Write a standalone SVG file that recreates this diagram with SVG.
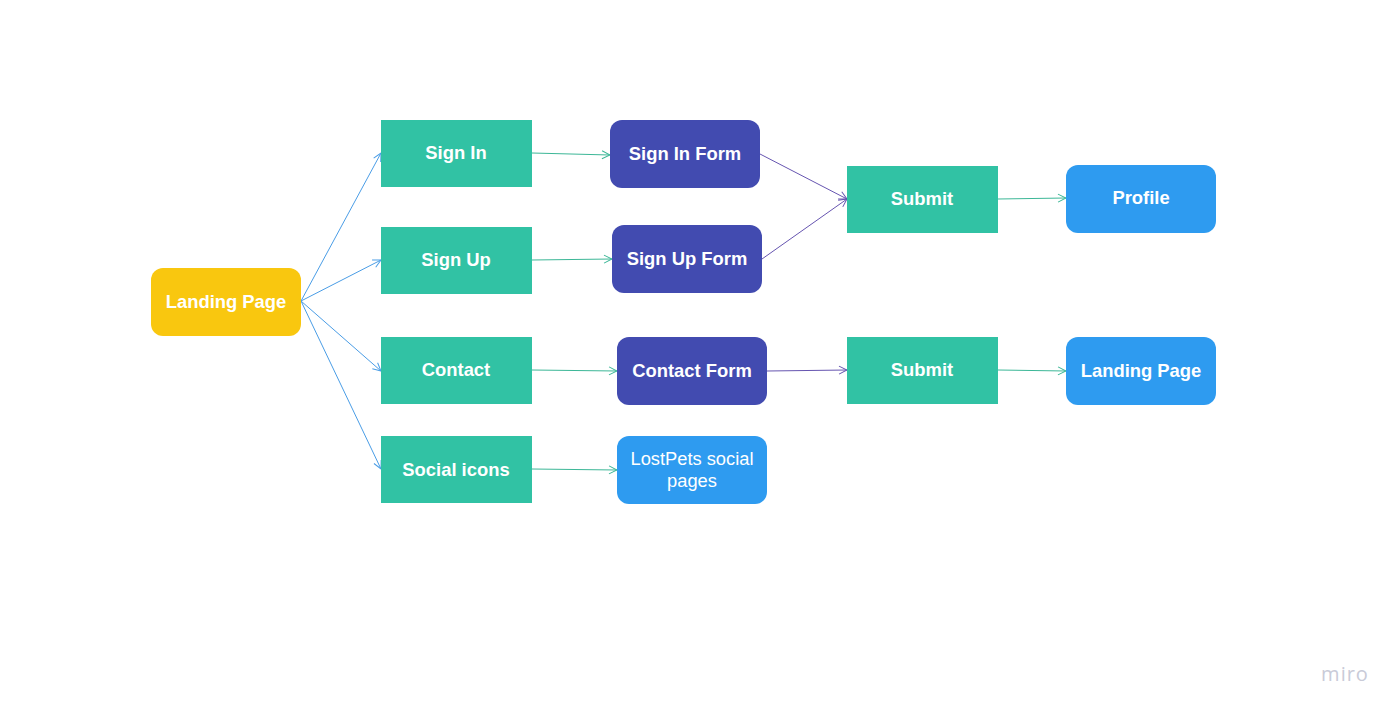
<svg xmlns="http://www.w3.org/2000/svg" width="1400" height="714" viewBox="0 0 1400 714">
<defs>
<style>
.t{font-family:"Liberation Sans",Arial,sans-serif;font-size:18.4px;font-weight:bold;fill:#fff;text-anchor:middle;dominant-baseline:central}
.n{font-family:"Liberation Sans",Arial,sans-serif;font-size:18.3px;fill:#fff;text-anchor:middle}
.teal{fill:#31c2a4}
.ind{fill:#424bb0}
.blue{fill:#2e9bf0}
.yel{fill:#f9c70f}
.c{fill:none;stroke-width:1}
.cb{stroke:#4a9de6;marker-end:url(#ab)}
.ct{stroke:#3cb797;marker-end:url(#at)}
.cp{stroke:#6655b0;marker-end:url(#ap)}
</style>
<marker id="ab" markerWidth="10" markerHeight="10" refX="9" refY="5" orient="auto" markerUnits="userSpaceOnUse"><path d="M1,1 L9,5 L1,9" fill="none" stroke="#4a9de6" stroke-width="1"/></marker>
<marker id="at" markerWidth="10" markerHeight="10" refX="9" refY="5" orient="auto" markerUnits="userSpaceOnUse"><path d="M1,1 L9,5 L1,9" fill="none" stroke="#3cb797" stroke-width="1"/></marker>
<marker id="ap" markerWidth="10" markerHeight="10" refX="9" refY="5" orient="auto" markerUnits="userSpaceOnUse"><path d="M1,1 L9,5 L1,9" fill="none" stroke="#6655b0" stroke-width="1"/></marker>
</defs>
<rect width="1400" height="714" fill="#fff"/>
<g id="connectors">
<line class="c cb" x1="301" y1="301" x2="381" y2="153"/>
<line class="c cb" x1="301" y1="301" x2="381" y2="260"/>
<line class="c cb" x1="301" y1="301" x2="381" y2="371"/>
<line class="c cb" x1="301" y1="301" x2="381" y2="469"/>
<line class="c ct" x1="532" y1="153" x2="610" y2="155"/>
<line class="c ct" x1="532" y1="260" x2="612" y2="259"/>
<line class="c ct" x1="532" y1="370" x2="617" y2="371"/>
<line class="c ct" x1="532" y1="469" x2="617" y2="470"/>
<line class="c cp" x1="760" y1="154" x2="847" y2="199"/>
<line class="c cp" x1="762" y1="259" x2="847" y2="199"/>
<line class="c cp" x1="767" y1="371" x2="847" y2="370"/>
<line class="c ct" x1="998" y1="199" x2="1066" y2="198"/>
<line class="c ct" x1="998" y1="370" x2="1066" y2="371"/>
</g>
<g id="landing"><rect class="yel" x="151" y="268" width="150" height="68" rx="12"/><text class="t" x="226" y="301">Landing Page</text></g>
<g id="signin"><rect class="teal" x="381" y="120" width="151" height="67"/><text class="t" x="456" y="152">Sign In</text></g>
<g id="signup"><rect class="teal" x="381" y="227" width="151" height="67"/><text class="t" x="456" y="259">Sign Up</text></g>
<g id="contact"><rect class="teal" x="381" y="337" width="151" height="67"/><text class="t" x="456" y="369">Contact</text></g>
<g id="social"><rect class="teal" x="381" y="436" width="151" height="67"/><text class="t" x="456" y="469">Social icons</text></g>
<g id="signinform"><rect class="ind" x="610" y="120" width="150" height="68" rx="12"/><text class="t" x="685" y="153">Sign In Form</text></g>
<g id="signupform"><rect class="ind" x="612" y="225" width="150" height="68" rx="12"/><text class="t" x="687" y="258">Sign Up Form</text></g>
<g id="contactform"><rect class="ind" x="617" y="337" width="150" height="68" rx="12"/><text class="t" x="692" y="370">Contact Form</text></g>
<g id="lostpets"><rect class="blue" x="617" y="436" width="150" height="68" rx="12"/><text class="n" x="692" y="465">LostPets social</text><text class="n" x="692" y="487">pages</text></g>
<g id="submit1"><rect class="teal" x="847" y="166" width="151" height="67"/><text class="t" x="922" y="198">Submit</text></g>
<g id="submit2"><rect class="teal" x="847" y="337" width="151" height="67"/><text class="t" x="922" y="369">Submit</text></g>
<g id="profile"><rect class="blue" x="1066" y="165" width="150" height="68" rx="12"/><text class="t" x="1141" y="197">Profile</text></g>
<g id="landing2"><rect class="blue" x="1066" y="337" width="150" height="68" rx="12"/><text class="t" x="1141" y="370">Landing Page</text></g>
<text x="1345" y="681" font-family="'Open Sans','Liberation Sans',sans-serif" font-size="20" fill="#c9cbd8" text-anchor="middle" letter-spacing="1">miro</text>
</svg>
